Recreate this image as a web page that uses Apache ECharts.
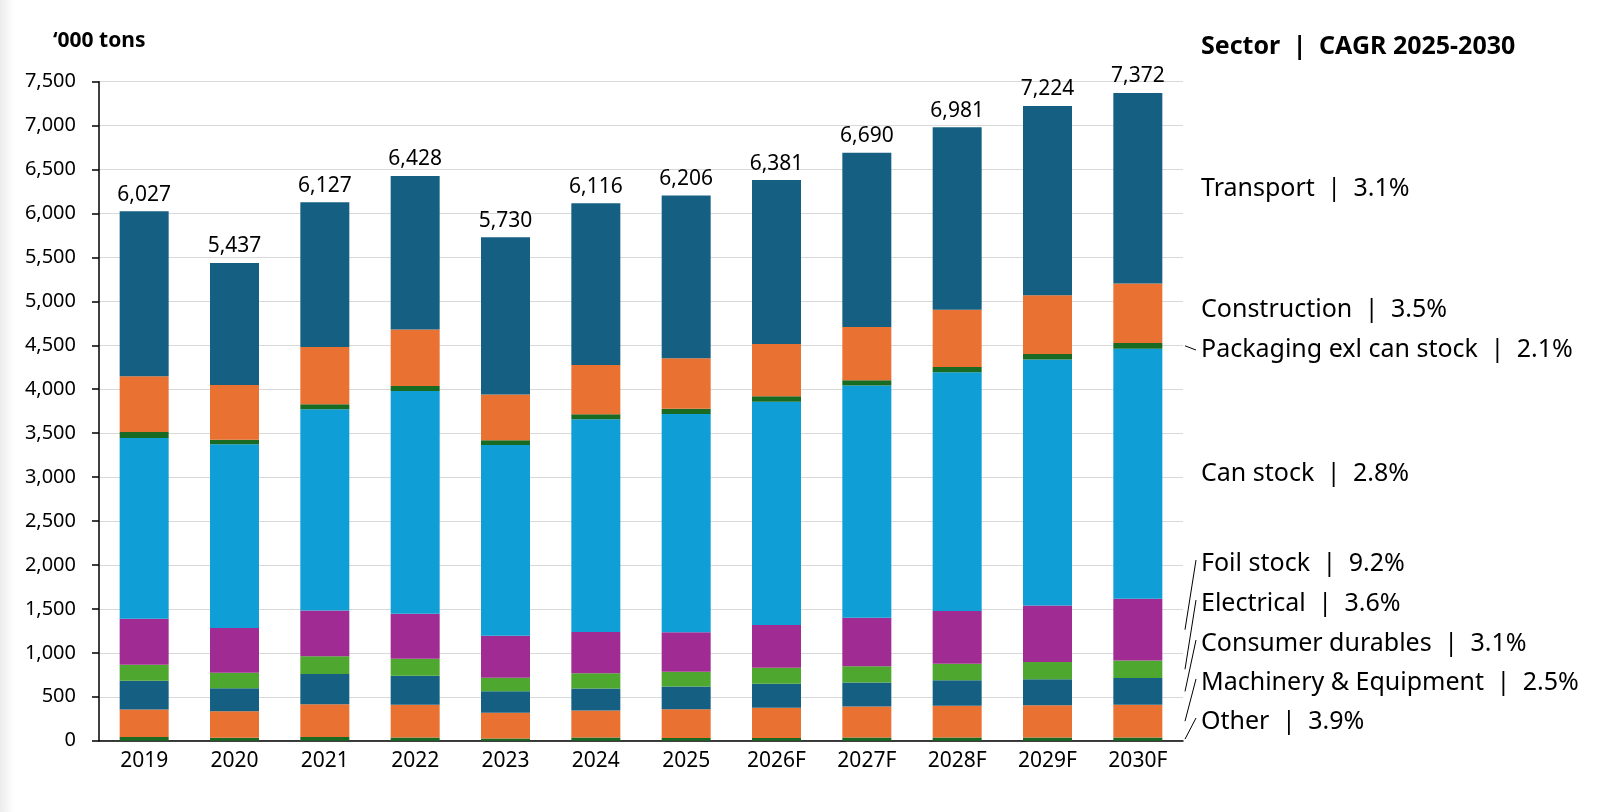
<!DOCTYPE html>
<html>
<head>
<meta charset="utf-8">
<script src="https://cdn.jsdelivr.net/npm/echarts@6/dist/echarts.min.js"></script>
<style>
html,body{margin:0;padding:0;background:#fff;}
#chart{width:1600px;height:812px;}
</style>
</head>
<body>
<div id="chart"></div>
<script>
const categories = ['2019','2020','2021','2022','2023','2024','2025','2026F','2027F','2028F','2029F','2030F'];
const totals = [6027,5437,6127,6428,5730,6116,6206,6381,6690,6981,7224,7372];
const other = [42,33,42,35,26,35,30,31,35,35,35,35];
const machinery = [313,301,372,373,291,308,327,344,353,364,369,374];
const consumer = [326,263,346,330,247,252,260,273,273,289,294,304];
const electrical = [184,176,201,195,152,173,168,181,186,189,199,199];
const foil = [522,509,522,512,478,469,450,489,551,599,643,703];
const canStock = [2059,2093,2289,2535,2170,2422,2482,2540,2645,2716,2797,2847];
const packaging = [67,50,58,56,56,56,62,62,58,60,65,64];
const construction = [635,623,652,643,521,560,573,595,608,653,668,678];
const transport = [1879,1389,1645,1749,1789,1841,1854,1866,1981,2076,2154,2168];

const sectorNames = ['Other','Machinery & Equipment','Consumer durables','Electrical','Foil stock','Can stock','Packaging exl can stock','Construction','Transport'];
const sectorCagr = ['3.9%','2.5%','3.1%','3.6%','9.2%','2.8%','2.1%','3.5%','3.1%'];
const yTicks = [0,500,1000,1500,2000,2500,3000,3500,4000,4500,5000,5500,6000,6500,7000,7500];

const seriesData = [other, machinery, consumer, electrical, foil, canStock, packaging, construction, transport];
const colors = ['#196B24','#E97132','#156082','#4EA72E','#A02B93','#0F9ED5','#196B24','#E97132','#156082'];
const FONT = '"Noto Sans", "Liberation Sans", sans-serif';
const SEP = '\u2002|\u2002';

const chart = echarts.init(document.getElementById('chart'), null, {renderer:'canvas'});

const series = seriesData.map((d, i) => ({
  name: sectorNames[i],
  type: 'bar',
  stack: 'total',
  data: d,
  barWidth: 49,
  itemStyle: { color: colors[i] },
  emphasis: { disabled: true },
  label: i === seriesData.length - 1 ? {
    show: true,
    position: 'top',
    distance: 6,
    color: '#000',
    fontSize: 21,
    fontFamily: FONT,
    formatter: p => totals[p.dataIndex].toLocaleString('en-US')
  } : { show: false }
}));

chart.setOption({
  animation: false,
  backgroundColor: '#fff',
  grid: { left: 99, right: 417, top: 81.7, bottom: 71.3, containLabel: false },
  xAxis: {
    type: 'category',
    data: categories,
    axisLine: { lineStyle: { color: '#000', width: 1.5 } },
    axisTick: { show: false },
    axisLabel: { color: '#000', fontSize: 21, fontFamily: FONT, margin: 10 }
  },
  yAxis: {
    type: 'value',
    min: 0, max: 7500, interval: 500,
    axisLine: { show: true, lineStyle: { color: '#000', width: 1.5 } },
    axisTick: { show: true, length: 7, lineStyle: { color: '#000', width: 1.5 } },
    splitLine: { lineStyle: { color: '#d9d9d9', width: 1 } },
    axisLabel: { color: '#000', fontSize: 20, fontFamily: FONT, margin: 23,
      formatter: v => yTicks.includes(v) ? v.toLocaleString('en-US') : '' }
  },
  series: series
});

// right-side sector labels with leader lines
const labelY = [722, 683, 644, 604, 564, 474, 350, 310, 189];
const leaderIdx = [0,1,2,3,4,6];
const last = categories.length - 1;
const graphics = [];
graphics.push({ type:'rect', left:0, top:0, shape:{x:0,y:0,width:14,height:812},
  style:{ fill: new echarts.graphic.LinearGradient(0,0,1,0,[{offset:0,color:'#ececec'},{offset:1,color:'#ffffff'}]) }, silent:true, z:-1 });
graphics.push({ type:'text', x:53, y:41, style:{ text:'\u2018000 tons', font:'bold 21px ' + FONT, fill:'#000', textVerticalAlign:'middle' } });
graphics.push({ type:'text', x:1201, y:47, style:{ text:'Sector' + SEP + 'CAGR 2025-2030', font:'bold 25px ' + FONT, fill:'#000', textVerticalAlign:'middle' } });
sectorNames.forEach((n, i) => {
  graphics.push({ type:'text', x:1201, y:labelY[i], style:{ text: n + SEP + sectorCagr[i], font:'25px ' + FONT, fill:'#000', textVerticalAlign:'middle' } });
});
leaderIdx.forEach(i => {
  let base = 0;
  for (let k = 0; k < i; k++) base += seriesData[k][last];
  const mid = base + seriesData[i][last] / 2;
  const py = chart.convertToPixel({ yAxisIndex: 0 }, mid);
  graphics.push({ type:'line', shape:{ x1:1185, y1:py, x2:1196, y2: i === 6 ? labelY[i] : labelY[i] - 4 },
    style:{ stroke:'#000', lineWidth:1 }, silent:true });
});
chart.setOption({ graphic: graphics });
</script>
</body>
</html>
